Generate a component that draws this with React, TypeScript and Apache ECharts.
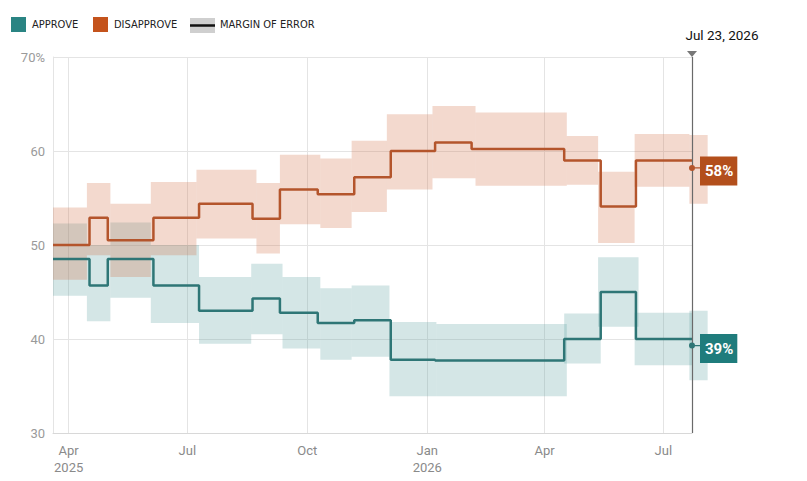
import React, { useEffect, useRef } from "react";
import * as echarts from "echarts";

// ---- data ----
const stepDates = [
  "2025-03-20", "2025-04-17", "2025-05-01", "2025-06-05", "2025-07-10", "2025-08-20",
  "2025-09-10", "2025-10-09", "2025-11-06", "2025-12-04", "2026-01-07", "2026-02-04",
  "2026-04-16", "2026-05-14", "2026-06-10", "2026-07-23",
];
const approveValues = [48.5, 45.7, 48.5, 45.7, 43.0, 44.3, 42.8, 41.7, 42.0, 37.8, 37.7, 37.7, 40.0, 45.0, 40.0, 40.0];
const disapproveValues = [50.0, 52.9, 50.5, 52.9, 54.4, 52.8, 55.9, 55.4, 57.2, 60.0, 60.9, 60.2, 59.0, 54.1, 59.0, 59.0];

// [start, end, low, high]
const approveBands: [string, string, number, number][] = [
  ["2025-03-20", "2025-04-15", 44.6, 52.3],
  ["2025-04-15", "2025-05-03", 41.9, 50.0],
  ["2025-05-03", "2025-06-03", 44.4, 52.4],
  ["2025-06-03", "2025-07-10", 41.7, 50.0],
  ["2025-07-10", "2025-08-19", 39.5, 46.6],
  ["2025-08-19", "2025-09-12", 40.5, 48.0],
  ["2025-09-12", "2025-10-11", 39.0, 46.6],
  ["2025-10-11", "2025-11-04", 37.8, 45.4],
  ["2025-11-04", "2025-12-03", 38.1, 45.7],
  ["2025-12-03", "2026-01-08", 33.9, 41.8],
  ["2026-01-08", "2026-04-18", 33.9, 41.6],
  ["2026-04-16", "2026-05-14", 37.4, 42.7],
  ["2026-05-12", "2026-06-12", 41.3, 48.7],
  ["2026-06-09", "2026-07-23", 37.2, 42.8],
  ["2026-07-21", "2026-08-04", 35.6, 43.0],
];
const disapproveBands: [string, string, number, number][] = [
  ["2025-03-20", "2025-04-15", 46.3, 54.0],
  ["2025-04-15", "2025-05-03", 48.9, 56.6],
  ["2025-05-03", "2025-06-03", 46.6, 54.4],
  ["2025-06-03", "2025-07-08", 48.9, 56.7],
  ["2025-07-08", "2025-08-23", 50.7, 58.0],
  ["2025-08-23", "2025-09-10", 49.1, 56.6],
  ["2025-09-10", "2025-10-11", 52.2, 59.6],
  ["2025-10-11", "2025-11-04", 51.8, 59.2],
  ["2025-11-04", "2025-12-01", 53.5, 61.1],
  ["2025-12-01", "2026-01-05", 55.9, 63.9],
  ["2026-01-05", "2026-02-07", 57.1, 64.8],
  ["2026-02-07", "2026-04-18", 56.3, 64.1],
  ["2026-04-18", "2026-05-12", 56.4, 61.6],
  ["2026-05-12", "2026-06-09", 50.2, 57.8],
  ["2026-06-09", "2026-07-21", 56.2, 61.8],
  ["2026-07-21", "2026-08-04", 54.4, 61.7],
];

const tickDates = ["2025-04-01", "2025-07-01", "2025-10-01", "2026-01-01", "2026-04-01", "2026-07-01"];
const tickLabels = ["Apr\n2025", "Jul", "Oct", "Jan\n2026", "Apr", "Jul"];
const xStart = "2025-03-20";
const currentDate = "2026-07-23";
const currentDateLabel = "Jul 23, 2026";
const currentApprove = 39.3;
const currentDisapprove = 58.2;
const currentApproveLabel = "39%";
const currentDisapproveLabel = "58%";
const legendNames = ["APPROVE", "DISAPPROVE", "MARGIN OF ERROR"];

// ---- helpers ----
const t = (s: string) => Date.UTC(+s.slice(0, 4), +s.slice(5, 7) - 1, +s.slice(8, 10));
const tickTimes = tickDates.map(t);

const APPROVE_LINE = "#2e7676";
const DISAPPROVE_LINE = "#b4552c";
const APPROVE_BAND = "rgba(83,155,155,0.25)";
const DISAPPROVE_BAND = "rgba(207,103,59,0.25)";
const FONT = "Roboto, 'Liberation Sans', sans-serif";
const NARROW = "'Liberation Sans Narrow', 'DejaVu Sans Condensed', Roboto, sans-serif";

const dotPath = "path://M3,0 A3,3 0 1,1 3,6 A3,3 0 1,1 3,0 Z M3,2.35 L11,2.35 L11,3.65 L3,3.65 Z";

function bandSeries(name: string, bands: [string, string, number, number][], fill: string) {
  return {
    type: "custom",
    name,
    clip: false,
    silent: true,
    z: 1,
    encode: { x: [0, 1], y: [2, 3] },
    data: bands.map((b) => [t(b[0]), t(b[1]), b[2], b[3]]),
    renderItem: (_p: any, api: any) => {
      const a = api.coord([api.value(0), api.value(3)]);
      const b = api.coord([api.value(1), api.value(2)]);
      return {
        type: "rect",
        shape: { x: a[0], y: a[1], width: b[0] - a[0], height: b[1] - a[1] },
        style: { fill },
      };
    },
  };
}

function currentSeries(value: number, label: string, color: string, boxColor: string) {
  return {
    type: "scatter",
    silent: true,
    z: 5,
    data: [[t(currentDate), value]],
    symbol: dotPath,
    symbolSize: [11, 6],
    symbolOffset: [2.5, 0],
    itemStyle: { color, opacity: 1 },
    label: {
      show: true,
      position: "right",
      distance: 0,
      offset: [0, 3],
      formatter: label,
      backgroundColor: boxColor,
      color: "#fff",
      fontSize: 15,
      fontWeight: "bold",
      fontFamily: FONT,
      padding: [8, 4, 6, 5],
    },
  };
}

export default function App() {
  const ref = useRef<HTMLDivElement>(null);
  useEffect(() => {
    if (!ref.current) return;
    const chart = echarts.init(ref.current, undefined, { renderer: "svg" });
    const cur = t(currentDate);
    chart.setOption({
      animation: false,
      grid: { left: 53, right: 115, top: 57, bottom: 48 },
      xAxis: {
        type: "value",
        min: t(xStart),
        max: cur,
        axisLine: { show: true, lineStyle: { color: "#d8d8d8", width: 1 } },
        axisTick: { show: false, customValues: tickTimes },
        axisLabel: {
          customValues: tickTimes,
          formatter: (v: number) => {
            const i = tickTimes.findIndex((x) => Math.abs(x - v) < 100000);
            return i >= 0 ? tickLabels[i] : "";
          },
          color: "#8a8a8a",
          fontSize: 13,
          lineHeight: 17,
          margin: 9,
          fontFamily: FONT,
        },
        splitLine: { show: true, lineStyle: { color: "#e4e4e4", width: 1 } },
      },
      yAxis: {
        type: "value",
        min: 30,
        max: 70,
        interval: 10,
        axisLine: { show: true, lineStyle: { color: "#e4e4e4" } },
        axisTick: { show: false },
        axisLabel: {
          formatter: (v: number) => (v === 70 ? "70%" : String(v)),
          color: "#9a9a9a",
          fontSize: 13,
          margin: 8,
          fontFamily: FONT,
        },
        splitLine: { show: true, lineStyle: { color: "#e4e4e4", width: 1 } },
      },
      graphic: [
        { type: "rect", left: 11, top: 17, shape: { width: 15, height: 15 }, style: { fill: "#2a8483" } },
        { type: "text", left: 32, top: 19, style: { text: legendNames[0], fontSize: 11, fontFamily: NARROW, fill: "#222" } },
        { type: "rect", left: 93, top: 17, shape: { width: 15, height: 15 }, style: { fill: "#c4531c" } },
        { type: "text", left: 114, top: 19, style: { text: legendNames[1], fontSize: 11, fontFamily: NARROW, fill: "#222" } },
        { type: "rect", left: 190, top: 18, shape: { width: 25, height: 15 }, style: { fill: "#cfcfcf" } },
        { type: "line", shape: { x1: 190, y1: 25.5, x2: 215, y2: 25.5 }, style: { stroke: "#111", lineWidth: 2.5 } },
        { type: "text", left: 220, top: 19, style: { text: legendNames[2], fontSize: 11, fontFamily: NARROW, fill: "#222" } },
      ],
      series: [
        bandSeries("approveBand", approveBands, APPROVE_BAND),
        bandSeries("disapproveBand", disapproveBands, DISAPPROVE_BAND),
        {
          type: "line",
          name: "Approve",
          step: "end",
          showSymbol: false,
          silent: true,
          z: 3,
          data: stepDates.map((d, i) => [t(d), approveValues[i]]),
          lineStyle: { color: APPROVE_LINE, width: 2.5 },
          itemStyle: { color: APPROVE_LINE },
        },
        {
          type: "line",
          name: "Disapprove",
          step: "end",
          showSymbol: false,
          silent: true,
          z: 3,
          data: stepDates.map((d, i) => [t(d), disapproveValues[i]]),
          lineStyle: { color: DISAPPROVE_LINE, width: 2.5 },
          itemStyle: { color: DISAPPROVE_LINE },
          markLine: {
            silent: true,
            symbol: ["none", "none"],
            label: { show: false },
            lineStyle: { color: "#6a6a6a", width: 1.2, type: "solid" },
            data: [{ xAxis: cur }],
          },
          markPoint: {
            silent: true,
            symbol: "path://M0,0 L10,0 L5,7 Z",
            symbolSize: [10, 6],
            symbolOffset: [0, -3],
            itemStyle: { color: "#777" },
            label: {
              show: true,
              position: "top",
              distance: 9,
              offset: [30, 0],
              formatter: currentDateLabel,
              color: "#111",
              fontSize: 13.5,
              fontFamily: FONT,
            },
            data: [{ coord: [cur, 70] }],
          },
        },
        currentSeries(currentApprove, currentApproveLabel, APPROVE_LINE, "#1f7c7c"),
        currentSeries(currentDisapprove, currentDisapproveLabel, DISAPPROVE_LINE, "#b34f1c"),
      ],
    });
    return () => chart.dispose();
  }, []);
  return <div ref={ref} style={{ position: "absolute", left: 0, top: 0, width: 807, height: 481 }} />;
}
